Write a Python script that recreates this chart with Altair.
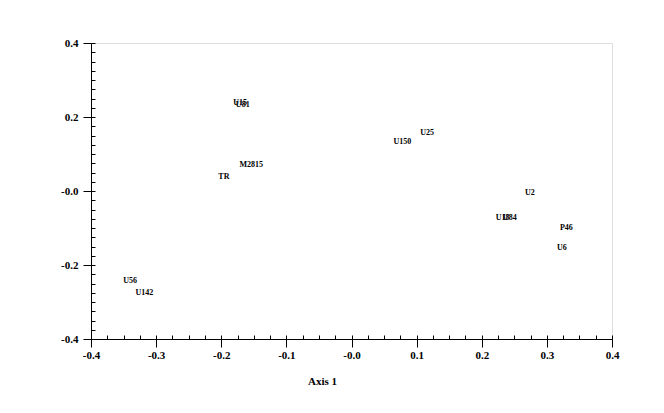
import altair as alt
import pandas as pd
import numpy as np

labels = ["U15", "U81", "M2815", "TR", "U25", "U150", "U2", "U18", "U84", "P46", "U6", "U56", "U142"]
axis1 = [-0.171, -0.167, -0.154, -0.196, 0.116, 0.078, 0.274, 0.232, 0.243, 0.330, 0.323, -0.340, -0.318]
axis2 = [0.238, 0.232, 0.070, 0.038, 0.157, 0.132, -0.005, -0.073, -0.073, -0.100, -0.154, -0.243, -0.276]

major_ticks = [-0.4, -0.3, -0.2, -0.1, 0.0, 0.1, 0.2, 0.3, 0.4]
major_ticks_y = [-0.4, -0.2, 0.0, 0.2, 0.4]
minor_ticks = [round(v, 3) for v in np.arange(-0.4, 0.4001, 0.025)]

df = pd.DataFrame({"label": labels, "x": axis1, "y": axis2})

FONT = "Liberation Serif"
label_expr = "datum.value <= 0 ? '-' + format(abs(datum.value), '.1f') : format(datum.value, '.1f')"

xscale = alt.Scale(domain=[-0.4, 0.4], nice=False, zero=False)
yscale = alt.Scale(domain=[-0.4, 0.4], nice=False, zero=False)

main = alt.Chart(df).mark_text(
    font=FONT, fontSize=8, fontWeight="bold", color="black", align="center", baseline="middle"
).encode(
    x=alt.X("x:Q", scale=xscale, axis=alt.Axis(
        orient="bottom", values=major_ticks, labelExpr=label_expr, grid=False,
        tickSize=8, tickColor="black", domainColor="black", labelColor="black",
        labelFont=FONT, labelFontSize=11, labelFontWeight="bold", labelPadding=2,
        title="Axis 1", titleFont=FONT, titleFontSize=11, titleFontWeight="bold",
        titleColor="black", titleX=231, titleY=42, titleAlign="center", titleBaseline="middle",
        labelFlush=False, labelOverlap=False)),
    y=alt.Y("y:Q", scale=yscale, axis=alt.Axis(
        orient="left", values=major_ticks_y, labelExpr=label_expr, grid=False,
        tickSize=8, tickColor="black", domainColor="black", labelColor="black",
        labelFont=FONT, labelFontSize=11, labelFontWeight="bold", labelPadding=5,
        title=None, labelFlush=False, labelOverlap=False)),
    text="label:N",
)

minor = alt.Chart(df).mark_point(opacity=0).encode(
    x=alt.X("x:Q", scale=xscale, axis=alt.Axis(
        orient="bottom", values=minor_ticks, offset=-4, tickSize=4, labels=False,
        domain=False, grid=False, title=None, tickColor="black")),
    y=alt.Y("y:Q", scale=yscale, axis=alt.Axis(
        orient="left", values=minor_ticks, offset=-4, tickSize=4, labels=False,
        domain=False, grid=False, title=None, tickColor="black")),
)

chart = alt.layer(main, minor).resolve_axis(x="independent", y="independent").properties(
    width=521, height=296,
    autosize=alt.AutoSizeParams(type="none"),
    padding={"left": 83, "top": 35, "right": 44, "bottom": 66},
).configure_view(stroke=None).configure(background="white")

chart.save("out.html", embed_options={"renderer": "svg", "actions": False})
